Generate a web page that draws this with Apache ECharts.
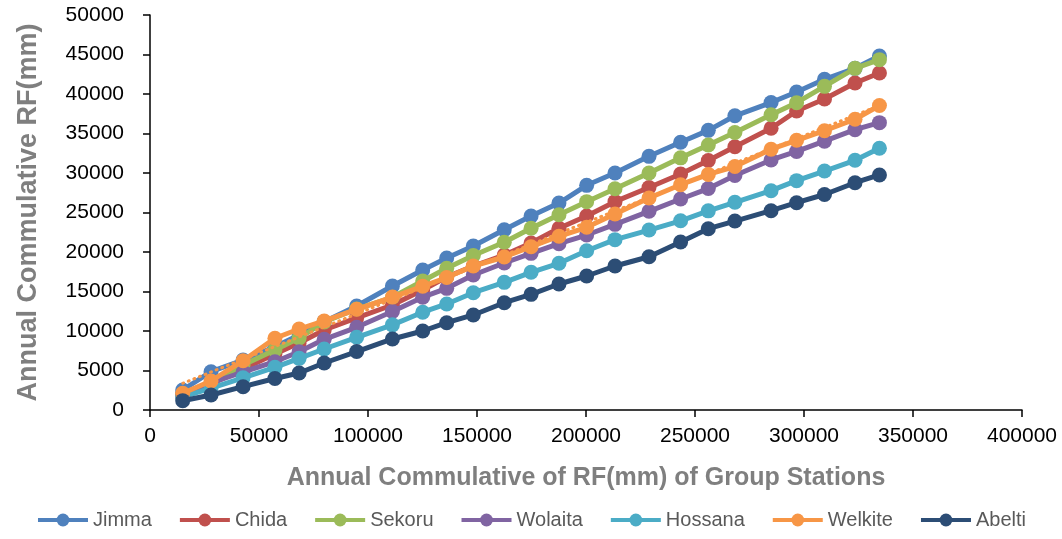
<!DOCTYPE html>
<html><head><meta charset="utf-8">
<script src="https://cdn.jsdelivr.net/npm/echarts@6/dist/echarts.min.js"></script>
<style>html,body{margin:0;padding:0;background:#fff}#c{width:1062px;height:539px}</style>
</head><body><div id="c"></div>
<script>
const groupX = [15000, 28000, 42700, 57300, 68400, 79900, 94800, 111200, 125100, 136100, 148300, 162500, 174800, 187600, 200300, 213300, 228900, 243400, 256100, 268300, 284900, 296600, 309400, 323400, 334600];
const jimma   = [2530, 4850, 6330, 8010, 9490, 11180, 13160, 15700, 17720, 19240, 20760, 22820, 24560, 26200, 28440, 30000, 32110, 33900, 35400, 37240, 38920, 40250, 41860, 43250, 44810];
const chida   = [1900, 3290, 5190, 7090, 8480, 10130, 11650, 13290, 15190, 16830, 18230, 19620, 21140, 23000, 24560, 26370, 28160, 29870, 31580, 33330, 35660, 37850, 39370, 41390, 42660];
const sekoru  = [2030, 3420, 5700, 7590, 9110, 11140, 12780, 14270, 16330, 17940, 19560, 21240, 23000, 24720, 26370, 28000, 30000, 31920, 33540, 35130, 37380, 38900, 40970, 43250, 44350];
const wolaita = [2030, 3420, 4810, 6110, 7380, 8950, 10470, 12470, 14280, 15400, 17090, 18610, 19830, 21050, 22150, 23500, 25150, 26710, 28030, 29680, 31650, 32730, 34030, 35490, 36370];
const hossana = [1650, 2780, 4080, 5400, 6540, 7720, 9200, 10780, 12380, 13420, 14850, 16160, 17430, 18570, 20160, 21560, 22780, 23950, 25210, 26290, 27760, 29030, 30250, 31610, 33130];
const welkite = [2110, 3670, 6240, 9080, 10250, 11270, 12750, 14300, 15660, 16770, 18230, 19370, 20670, 21990, 23130, 24810, 26840, 28520, 29820, 30820, 33010, 34140, 35350, 36800, 38540];
const abelti  = [1180, 1900, 2950, 3990, 4680, 5950, 7400, 8990, 10000, 11050, 12030, 13580, 14640, 15950, 16960, 18230, 19400, 21270, 22950, 23920, 25230, 26240, 27280, 28770, 29750];
const welkiteTrendX = [15000, 334600];
const welkiteTrendY = [3380, 38540];
const stationNames = ['Jimma', 'Chida', 'Sekoru', 'Wolaita', 'Hossana', 'Welkite', 'Abelti'];
const stationValues = [jimma, chida, sekoru, wolaita, hossana, welkite, abelti];
const colors = ['#4F81BD', '#C0504D', '#9BBB59', '#8064A2', '#4BACC6', '#F79646', '#2C4D75'];

const pair = (xs, ys) => xs.map((x, i) => [x, ys[i]]);
const FONT = 'Liberation Sans';
const series = [];
stationNames.forEach((n, i) => {
  series.push({
    name: n, type: 'line', data: pair(groupX, stationValues[i]),
    symbol: 'circle', symbolSize: 15, color: colors[i],
    lineStyle: { width: 5, color: colors[i] },
    itemStyle: { color: colors[i] },
    z: 2 + i, animation: false
  });
  if (n === 'Welkite') {
    series.push({
      name: 'Linear (Welkite)', type: 'line', data: pair(welkiteTrendX, welkiteTrendY),
      symbol: 'none', lineStyle: { width: 3, color: '#F79646', type: [1, 5], cap: 'round' },
      z: 2 + i, animation: false, silent: true
    });
  }
});

const chart = echarts.init(document.getElementById('c'), null, { renderer: 'canvas' });
chart.setOption({
  backgroundColor: '#fff',
  animation: false,
  grid: { left: 150, right: 40, top: 15, bottom: 129, containLabel: false },
  legend: {
    data: stationNames, bottom: 4, left: 'center',
    itemWidth: 50, itemHeight: 16, itemGap: 26,
    lineStyle: { width: 4 },
    textStyle: { fontFamily: FONT, fontSize: 20, color: '#595959' }
  },
  xAxis: {
    type: 'value', min: 0, max: 400000, interval: 50000,
    name: 'Annual Commulative of RF(mm) of Group Stations',
    nameLocation: 'middle', nameGap: 56,
    nameTextStyle: { fontFamily: FONT, fontSize: 25, fontWeight: 'bold', color: '#7F7F7F' },
    axisLine: { lineStyle: { color: '#000', width: 1.5 } },
    axisTick: { show: true, length: 7, lineStyle: { color: '#000', width: 1.5 } },
    axisLabel: { fontFamily: FONT, fontSize: 21, color: '#000', margin: 16, formatter: v => String(v) },
    splitLine: { show: false }
  },
  yAxis: {
    type: 'value', min: 0, max: 50000, interval: 5000,
    name: 'Annual Commulative RF(mm)',
    nameLocation: 'middle', nameGap: 108,
    nameTextStyle: { fontFamily: FONT, fontSize: 27, fontWeight: 'bold', color: '#7F7F7F' },
    axisLine: { show: true, lineStyle: { color: '#000', width: 1.5 } },
    axisTick: { show: true, length: 7, lineStyle: { color: '#000', width: 1.5 } },
    axisLabel: { fontFamily: FONT, fontSize: 21, color: '#000', margin: 26, formatter: v => String(v) },
    splitLine: { show: false }
  },
  series: series
});
</script></body></html>
